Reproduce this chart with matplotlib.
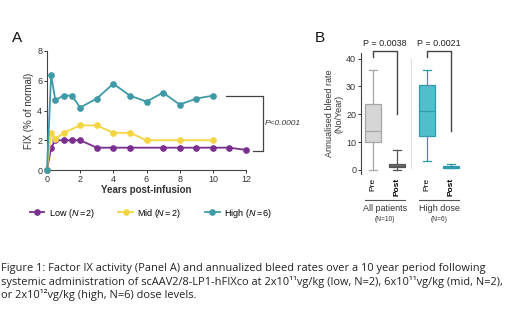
import numpy as np
import matplotlib
matplotlib.use('Agg')
import matplotlib.pyplot as plt
from matplotlib.lines import Line2D

plt.rcParams['font.family'] = ['Liberation Sans', 'DejaVu Sans']
plt.rcParams['mathtext.fontset'] = 'custom'
plt.rcParams['mathtext.it'] = 'Liberation Sans:italic'
plt.rcParams['mathtext.rm'] = 'Liberation Sans'

# panel A data
low_x = [0, 0.25, 0.5, 1, 1.5, 2, 3, 4, 5, 7, 8, 9, 10, 11, 12]
low_y = [0, 1.5, 2, 2, 2, 2, 1.5, 1.5, 1.5, 1.5, 1.5, 1.5, 1.5, 1.5, 1.35]
mid_x = [0, 0.25, 0.5, 1, 2, 3, 4, 5, 6, 8, 10]
mid_y = [0, 2.5, 2.1, 2.5, 3, 3, 2.5, 2.5, 2, 2, 2]
high_x = [0, 0.25, 0.5, 1, 1.5, 2, 3, 4, 5, 6, 7, 8, 9, 10]
high_y = [0, 6.4, 4.7, 5, 5, 4.2, 4.8, 5.8, 5, 4.6, 5.2, 4.4, 4.8, 5.0]

# panel B box stats (Pre/Post for all patients, high dose)
box_names = ['Pre', 'Post', 'Pre', 'Post']
box_low = [0, 0, 3, 0.5]
box_q1 = [10, 1, 12, 0.8]
box_med = [14, 1.5, 21, 1.0]
box_q3 = [23.5, 2, 30.5, 1.5]
box_high = [36, 7, 36, 2]
p_labels = ['P = 0.0038', 'P = 0.0021']
group_names = ['All patients', 'High dose']
group_n = ['(N=10)', '(N=6)']

c_low = '#7A2F8F'
c_mid = '#F3D543'
c_high = '#3E9AA6'

fig = plt.figure(figsize=(5.2, 3.26), dpi=100)

# ---- panel A
axA = fig.add_axes([47/520, 1-170/326, 199/520, 119/326])
for xs, ys, c in [(low_x, low_y, c_low), (mid_x, mid_y, c_mid), (high_x, high_y, c_high)]:
    axA.plot(xs, ys, color=c, marker='o', ms=3.8, lw=1.3, clip_on=False, zorder=3)
axA.set_xlim(0, 12)
axA.set_ylim(0, 8)
axA.set_xticks([0, 2, 4, 6, 8, 10, 12])
axA.set_yticks([0, 2, 4, 6, 8])
axA.spines['top'].set_visible(False)
axA.spines['right'].set_visible(False)
for s in ['left', 'bottom']:
    axA.spines[s].set_color('#444444')
    axA.spines[s].set_linewidth(0.8)
axA.tick_params(labelsize=6.5, length=2, width=0.7, colors='#333333', pad=1.5)
axA.set_xlabel('Years post-infusion', fontsize=7, color='#333333', labelpad=1, fontweight='bold')
axA.set_ylabel('FIX (% of normal)', fontsize=7, color='#333333', labelpad=2)
# significance bracket
axA.plot([10.8, 13.0, 13.0, 12.4], [5.0, 5.0, 1.3, 1.3], color='#444444', lw=0.9, clip_on=False)
axA.text(13.15, 3.15, 'P<0.0001', fontsize=6, style='italic', color='#333333', va='center', clip_on=False)
fig.text(12/520, 1-38/326, 'A', fontsize=11, color='#111111', va='center')

handles = [Line2D([], [], color=c, marker='o', ms=3.8, lw=1.3) for c in [c_low, c_mid, c_high]]
labels = ['Low $\\it{(N{=}2)}$', 'Mid $\\it{(N{=}2)}$', 'High $\\it{(N{=}6)}$']
fig.legend(handles, labels, loc='center', bbox_to_anchor=(151/520, 1-213/326), ncol=3,
           frameon=False, fontsize=6.5, handlelength=1.6, columnspacing=2.6, handletextpad=0.5)

# ---- panel B
axB = fig.add_axes([361/520, 1-174/326, 110/520, 121/326])
stats = []
for i in range(4):
    stats.append({'whislo': box_low[i], 'q1': box_q1[i], 'med': box_med[i],
                  'q3': box_q3[i], 'whishi': box_high[i], 'label': box_names[i]})
pos = [373, 397, 427, 451]
pos = [(p - 361) / 110 * 10 for p in pos]
faces = ['#D6D6D6', '#7A7A7A', '#4FBFCC', '#4FBFCC']
edges = ['#A6A6A6', '#555555', '#2E9AAA', '#2E9AAA']
for i in range(4):
    axB.bxp([stats[i]], positions=[pos[i]], widths=1.4, patch_artist=True, showfliers=False,
            boxprops=dict(facecolor=faces[i], edgecolor=edges[i], lw=0.9),
            medianprops=dict(color=edges[i], lw=0.9),
            whiskerprops=dict(color=edges[i], lw=0.9),
            capprops=dict(color=edges[i], lw=0.9))
axB.set_xlim(0, 10)
axB.set_ylim(-1.5, 42)
axB.set_yticks([0, 10, 20, 30, 40])
axB.set_xticks(pos)
axB.set_xticklabels(box_names, rotation=90, fontsize=6)
for i, t in enumerate(axB.get_xticklabels()):
    if box_names[i] == 'Post':
        t.set_fontweight('bold')
axB.tick_params(axis='x', length=0, pad=3)
axB.tick_params(axis='y', labelsize=6.5, length=2, width=0.7, colors='#333333', pad=1.5)
for s in ['top', 'right', 'bottom']:
    axB.spines[s].set_visible(False)
axB.spines['left'].set_color('#444444')
axB.spines['left'].set_linewidth(0.8)
axB.set_ylabel('Annualised bleed rate\n(No/Year)', fontsize=6.5, color='#333333', labelpad=2, linespacing=1.1)
# separator
axB.axvline((411 - 361) / 110 * 10, ymin=0.05, ymax=0.95, color='#DDDDDD', lw=0.8)
# p brackets
p_ends = [20, 14]
for g in range(2):
    x1, x2 = pos[2*g], pos[2*g+1]
    axB.plot([x1, x1, x2, x2], [40.5, 42.8, 42.8, p_ends[g]], color='#444444', lw=1.0, clip_on=False)
    axB.text((x1 + x2) / 2, 45.5, p_labels[g], fontsize=6.5, ha='center', va='center', color='#222222')
    axB.plot([x1 - 0.7, x2 + 0.7], [-10.9, -10.9], color='#555555', lw=0.8, clip_on=False)
    axB.text((x1 + x2) / 2, -12.3, group_names[g], fontsize=6.5, ha='center', va='top', color='#333333')
    axB.text((x1 + x2) / 2, -16.6, group_n[g], fontsize=4.8, ha='center', va='top', color='#333333')
fig.text(315/520, 1-38/326, 'B', fontsize=11, color='#111111', va='center')

caption_lines = ['Figure 1: Factor IX activity (Panel A) and annualized bleed rates over a 10 year period following',
                 'systemic administration of scAAV2/8-LP1-hFIXco at 2x10\u00b9\u00b9vg/kg (low, N=2), 6x10\u00b9\u00b9vg/kg (mid, N=2),',
                 'or 2x10\u00b9\u00b2vg/kg (high, N=6) dose levels.']
for k, line in enumerate(caption_lines):
    fig.text(1/520, 1-(268 + 13.5*k)/326, line, fontsize=7.9, family=['Open Sans', 'DejaVu Sans'],
             color='#222222', va='center', ha='left')

fig.savefig('out.png', dpi=100)
